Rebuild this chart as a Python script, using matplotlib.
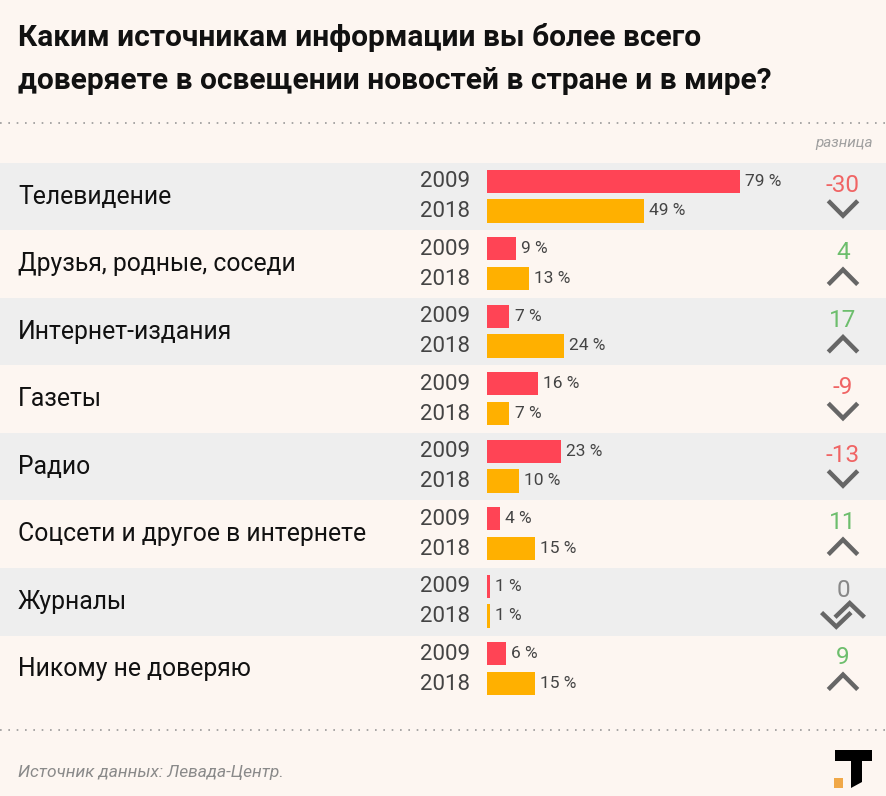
import matplotlib.pyplot as plt
from matplotlib.patches import Polygon, Rectangle

plt.rcParams['font.family'] = ['Roboto', 'DejaVu Sans']

categories = ['Телевидение', 'Друзья, родные, соседи', 'Интернет-издания', 'Газеты',
              'Радио', 'Соцсети и другое в интернете', 'Журналы', 'Никому не доверяю']
v2009 = [79, 9, 7, 16, 23, 4, 1, 6]
v2018 = [49, 13, 24, 7, 10, 15, 1, 15]
diff = [b - a for a, b in zip(v2009, v2018)]

W, H = 886, 796
BG = '#FDF6F1'
GRAY_BAND = '#EEEEEE'
RED = '#FF4455'
ORANGE = '#FFB000'

fig = plt.figure(figsize=(W / 100, H / 100), dpi=100, facecolor=BG)

# rows area: pixel 163..703, bars start at x=487, 3.2 px per percent
top_px, bot_px = 163, 703
ax = fig.add_axes([0, 1 - bot_px / H, 1, (bot_px - top_px) / H])
ax.set_facecolor(BG)
x0, ppu = 487, 3.2
ax.set_xlim(-x0 / ppu, (W - x0) / ppu)
ax.set_ylim(len(categories), 0)
ax.axis('off')

xd = (843 - x0) / ppu  # diff column
for i, cat in enumerate(categories):
    if i % 2 == 0:
        ax.axhspan(i, i + 1, color=GRAY_BAND, zorder=0, lw=0)
    ax.text((18 - x0) / ppu, i + 0.5, cat, fontsize=17.8, color='#111111', va='center', ha='left')
    ax.barh(i + 0.27, v2009[i], height=0.34, left=0, color=RED, zorder=2)
    ax.barh(i + 0.71, v2018[i], height=0.35, left=0, color=ORANGE, zorder=2)
    ax.text(-5.3, i + 0.28, '2009', fontsize=16, color='#444444', ha='right', va='center')
    ax.text(-5.3, i + 0.72, '2018', fontsize=16, color='#444444', ha='right', va='center')
    ax.text(v2009[i] + 1.6, i + 0.27, f'{v2009[i]} %', fontsize=12.5, color='#444444', va='center')
    ax.text(v2018[i] + 1.6, i + 0.71, f'{v2018[i]} %', fontsize=12.5, color='#444444', va='center')

    d = diff[i]
    if d < 0:
        col, lab = '#F06464', f'{d}'
    elif d > 0:
        col, lab = '#6DBE6D', f'{d}'
    else:
        col, lab = '#888888', '0'
    ax.text(xd, i + 0.33, lab, fontsize=17.5, color=col, ha='center', va='center')
    hw = 4.6
    if d < 0:
        ax.plot([xd - hw, xd, xd + hw], [i + 0.56, i + 0.78, i + 0.56], color='#666666', lw=3.2,
                solid_capstyle='butt', solid_joinstyle='miter')
    elif d > 0:
        ax.plot([xd - hw, xd, xd + hw], [i + 0.80, i + 0.58, i + 0.80], color='#666666', lw=3.2,
                solid_capstyle='butt', solid_joinstyle='miter')
    else:
        dx = 2.1
        ax.plot([xd - dx - hw, xd - dx, xd - dx + hw], [i + 0.66, i + 0.87, i + 0.66], color='#666666',
                lw=3.2, solid_capstyle='butt', solid_joinstyle='miter')
        ax.plot([xd + dx - hw, xd + dx, xd + dx + hw], [i + 0.73, i + 0.52, i + 0.73], color='#666666',
                lw=3.2, solid_capstyle='butt', solid_joinstyle='miter')

# title
fig.text(18 / W, 1 - 46 / H, 'Каким источникам информации вы более всего', fontsize=21.5,
         fontweight='bold', color='#111111', va='baseline')
fig.text(18 / W, 1 - 89 / H, 'доверяете в освещении новостей в стране и в мире?', fontsize=21.5,
         fontweight='bold', color='#111111', va='baseline')

# dotted separators
for ypx in (123, 730):
    fig.add_artist(plt.Line2D([0, 1], [1 - ypx / H] * 2, color='#999999', lw=1.2,
                              linestyle=(0, (1, 4))))

fig.text(873 / W, 1 - 143 / H, 'разница', fontsize=11, style='italic', color='#A0A0A0',
         ha='right', va='center')
fig.text(18 / W, 1 - 773 / H, 'Источник данных: Левада-Центр.', fontsize=12.5, style='italic',
         color='#8A8A8A', ha='left', va='center')

# logo
def fp(x, y):
    return (x / W, 1 - y / H)

fig.add_artist(Polygon([fp(835, 750), fp(872, 750), fp(872, 761), fp(862, 761), fp(862, 782),
                        fp(851, 788), fp(851, 761), fp(835, 761)], closed=True,
                       facecolor='black', edgecolor='none', transform=fig.transFigure))
fig.add_artist(Rectangle(fp(834, 788), 9 / W, 10 / H, facecolor='#F0A848', edgecolor='none',
                         transform=fig.transFigure))

fig.savefig('out.png', dpi=100, facecolor=BG)
